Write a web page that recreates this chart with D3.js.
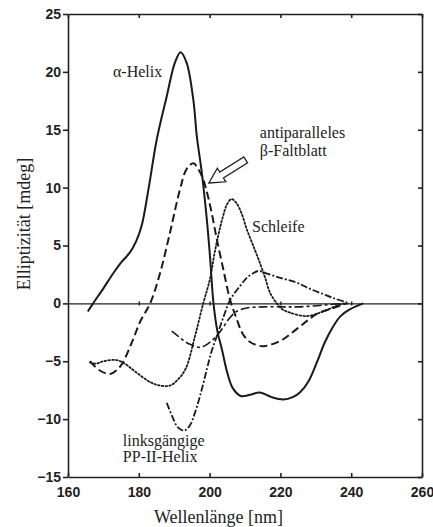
<!DOCTYPE html>
<html>
<head>
<meta charset="utf-8">
<script src="https://cdn.jsdelivr.net/npm/d3@7"></script>
<style>
  body { margin: 0; background: #fff; }
  .tick text { font-family: 'Liberation Sans', Arial, sans-serif; font-size: 14px; font-weight: bold; fill: #222; }
  .lbl { font-family: 'Liberation Serif', 'Times New Roman', serif; font-size: 16px; }
  .title { font-family: 'Liberation Serif', 'Times New Roman', serif; font-size: 18px; }
</style>
</head>
<body>
<div id="chart"></div>
<script>
// wavelength [nm], ellipticity [mdeg]
const helix = [
  [165.6, -0.7], [167.1, 0], [170, 1.3], [172.8, 2.6], [175.2, 3.6], [177.5, 4.4], [179.3, 5.4],
  [180.8, 6.7], [182.7, 9.8], [185.1, 14.2], [187.9, 17.9], [190.2, 20.8], [191.8, 21.7],
  [193.5, 20.8], [195.4, 17.6], [196.4, 14.4], [197.8, 11.3], [199.2, 7.3], [200.1, 4.1],
  [201.1, 0], [202.2, -2.4], [203.5, -4], [205, -6.0], [206.5, -7.3], [208.8, -8.0], [211.4, -7.9],
  [214.2, -7.7], [217.5, -8.1], [220.8, -8.3], [223.5, -8.1], [225.5, -7.7], [228, -6.7],
  [230.3, -5.1], [232.5, -3.4], [234.9, -2.0], [237, -1.1], [239.7, -0.5], [243.4, 0]
]
const betaSheet = [
  [166.2, -5.0], [169, -5.8], [171.9, -6.1], [174, -5.7], [175.5, -5.1], [178, -3.4], [180.5, -1.5],
  [183.2, 0], [186, 2.6], [188.8, 6.1], [191.6, 9.8], [193.5, 11.6], [195.4, 12.1], [196.8, 11.6],
  [198.2, 10.7], [199.5, 9.3], [200.8, 7.5], [202, 5.6], [203.9, 2.9],
  [205.8, 0.3], [207.6, -1.3], [209.3, -2.6], [211.2, -3.3], [213.2, -3.6], [215.2, -3.7],
  [218, -3.5], [220.8, -3.1], [223, -2.6], [225.5, -2.0], [228, -1.4], [230.3, -0.9],
  [234.9, -0.4], [238.7, 0]
]
const loop = [
  [166.2, -5.1], [168, -5.2], [170, -5.0], [173.7, -4.9], [176, -5.2], [179, -5.9], [183.2, -6.8],
  [186, -7.1], [188.8, -7.1], [191, -6.6], [193.3, -5.6], [195.9, -2.8], [198.2, 0], [200.1, 2.1],
  [201.5, 4.5], [203.5, 7.2], [205, 8.6], [206.2, 9.0], [207.5, 8.7], [209, 7.8], [210.5, 6.4],
  [212.3, 5], [214.2, 3.5], [215.7, 2.2], [217.1, 0.9], [219, 0], [220.5, -0.5], [222.7, -0.8],
  [227.4, -1.1], [232.1, -0.7], [236.8, -0.1], [239, 0]
]
const ppII = [
  [187.9, -8.6], [189.5, -9.8], [191, -10.7], [192.8, -11.0], [194.5, -10.5], [195.8, -9.5],
  [197.3, -8.0], [199.3, -5.6], [200.5, -4.2], [202.2, -2.7], [204, -1.1], [205.8, 0.3],
  [208.6, 1.5], [210.5, 2.2], [212.3, 2.6], [213.8, 2.8], [216, 2.6], [220, 2.2], [224.6, 1.8],
  [228, 1.3], [232.1, 0.8], [235.5, 0.4], [238.7, 0.1]
]
const other = [
  [189.3, -2.4], [191, -2.8], [193, -3.3], [195, -3.6], [197.3, -3.8], [199.5, -3.5], [202, -2.8],
  [203.8, -2.1], [205.3, -1.4], [207.6, -0.7], [210.5, -0.4], [215, -0.3], [220.8, -0.3],
  [225, -0.3], [230.3, -0.2], [234, -0.1], [237.8, 0]
]

const xTicks = [160, 180, 200, 220, 240, 260]
const yTicks = [-15, -10, -5, 0, 5, 10, 15, 20, 25]

const labels = [
  { text: 'α-Helix', x: 172.7, y: 19.6 },
  { text: 'antiparalleles', x: 214.2, y: 14.3 },
  { text: 'β-Faltblatt', x: 214.2, y: 12.7 },
  { text: 'Schleife', x: 212, y: 6.2 },
  { text: 'linksgängige', x: 175.5, y: -12.3 },
  { text: 'PP-II-Helix', x: 175.5, y: -13.7 }
]
// arrow from tail to tip, data coords
const arrow = { tail: [210.2, 12.4], tip: [199.8, 10.4] }

const W = 433
const H = 527
const svg = d3.select('#chart').append('svg').attr('width', W).attr('height', H)

const x = d3.scaleLinear().domain([160, 260]).range([68, 422])
const y = d3.scaleLinear().domain([-15, 25]).range([477, 14])

const curves = [
  { data: helix, dash: null, width: 2 },
  { data: betaSheet, dash: '8,4', width: 2 },
  { data: loop, dash: '1.6,2.2', width: 1.8 },
  { data: ppII, dash: '7,2,2,2', width: 1.8 },
  { data: other, dash: '9,3,3,3', width: 1.6 }
]

const line = d3.line()
  .x(d => x(d[0]))
  .y(d => y(d[1]))
  .curve(d3.curveCatmullRom.alpha(0.5))

// axes
svg.append('g')
  .attr('transform', `translate(0,${y(-15)})`)
  .call(d3.axisBottom(x).tickValues(xTicks).tickSizeInner(-4).tickSizeOuter(0).tickPadding(10))
svg.append('g')
  .attr('transform', `translate(${x(160)},0)`)
  .call(d3.axisLeft(y).tickValues(yTicks).tickSize(5).tickSizeOuter(0).tickPadding(2))
svg.append('g')
  .attr('transform', `translate(0,${y(25)})`)
  .call(d3.axisTop(x).tickValues(xTicks).tickSizeInner(-4).tickSizeOuter(0).tickFormat(''))
svg.append('g')
  .attr('transform', `translate(${x(260)},0)`)
  .call(d3.axisRight(y).tickValues(yTicks).tickSizeInner(-4).tickSizeOuter(0).tickFormat(''))

svg.selectAll('.domain, .tick line').attr('stroke', '#222').attr('stroke-width', 1.6)

// zero line
svg.append('g')
  .attr('transform', `translate(0,${y(0)})`)
  .call(d3.axisBottom(x).tickValues(xTicks.slice(1, -1)).tickSize(2).tickSizeOuter(0).tickFormat(''))
  .call(g => g.select('.domain').attr('stroke', '#222').attr('stroke-width', 1.4))
  .call(g => g.selectAll('.tick line').attr('y1', -2).attr('stroke', '#222').attr('stroke-width', 1.4))

svg.selectAll('.curve')
  .data(curves)
  .enter()
  .append('path')
  .attr('class', 'curve')
  .attr('d', d => line(d.data))
  .attr('fill', 'none')
  .attr('stroke', '#1a1a1a')
  .attr('stroke-width', d => d.width)
  .attr('stroke-dasharray', d => d.dash)
  .attr('stroke-linecap', d => d.dash === '1.6,2.2' ? 'round' : 'butt')

// hollow arrow
const tip = [x(arrow.tip[0]), y(arrow.tip[1])]
const tail = [x(arrow.tail[0]), y(arrow.tail[1])]
const len = Math.hypot(tail[0] - tip[0], tail[1] - tip[1])
const u = [(tail[0] - tip[0]) / len, (tail[1] - tip[1]) / len]
const n = [-u[1], u[0]]
const pt = (s, t) => [tip[0] + u[0] * s + n[0] * t, tip[1] + u[1] * s + n[1] * t]
const headL = 15
const arrowPts = [pt(0, 0), pt(headL, 8), pt(headL, 3.5), pt(len, 3.5), pt(len, -3.5), pt(headL, -3.5), pt(headL, -8)]
svg.append('polygon')
  .attr('points', arrowPts.map(p => p.join(',')).join(' '))
  .attr('fill', '#fff')
  .attr('stroke', '#222')
  .attr('stroke-width', 1.3)
  .attr('stroke-linejoin', 'miter')

svg.selectAll('.lbl')
  .data(labels)
  .enter()
  .append('text')
  .attr('class', 'lbl')
  .attr('fill', '#222')
  .attr('x', d => x(d.x))
  .attr('y', d => y(d.y))
  .text(d => d.text)

svg.append('text')
  .attr('class', 'title')
  .attr('fill', '#222')
  .attr('text-anchor', 'middle')
  .attr('x', x(202.5))
  .attr('y', 523)
  .text('Wellenlänge [nm]')

svg.append('text')
  .attr('class', 'title')
  .attr('fill', '#222')
  .attr('text-anchor', 'middle')
  .attr('transform', `translate(30,224) rotate(-90)`)
  .text('Elliptizität [mdeg]')
</script>
</body>
</html>
